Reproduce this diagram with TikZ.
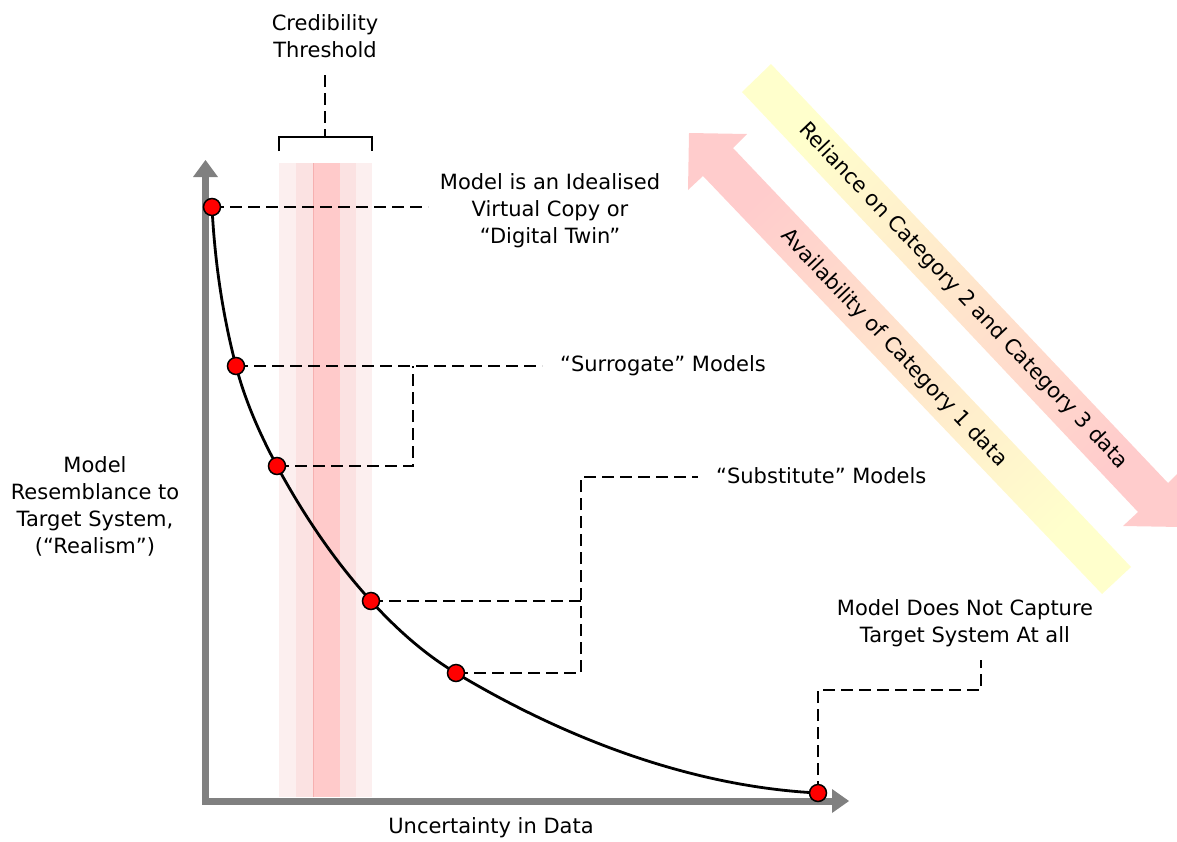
\documentclass[tikz,border=0pt]{standalone}
\usepackage{fontspec}
\setmainfont{DejaVu Sans}
\definecolor{axisgray}{HTML}{808080}
\definecolor{bandA}{HTML}{FCEFEF}
\definecolor{bandB}{HTML}{FBE2E2}
\definecolor{bandC}{HTML}{FFCACA}
\definecolor{bandEdge}{HTML}{F6B0B0}
\definecolor{yelc}{HTML}{FFFFCC}
\definecolor{pinc}{HTML}{FFCCCC}
\begin{document}
\begin{tikzpicture}[x=1pt,y=-1pt,
  lbl/.style={font=\fontsize{21}{27}\selectfont, align=center, inner sep=0pt, text=black},
  dashline/.style={draw=black, line width=1.6pt, dash pattern=on 12pt off 6pt},
  solidline/.style={draw=black, line width=1.6pt},
  dot/.style={circle, fill=red, draw=black, line width=1.5pt, minimum size=17pt, inner sep=0pt},
  axisline/.style={draw=axisgray, line width=7pt, line join=miter},
  axishead/.style={fill=axisgray}]
\useasboundingbox (0,0) rectangle (1177,841);

% big diagonal arrows
\shade[top color=yelc, bottom color=pinc, shading angle=43.5]
  (742,92) -- (771,64) -- (1168,483) -- (1182,469) -- (1181,527) -- (1123,526) -- (1138,512) -- cycle;
\shade[top color=pinc, bottom color=yelc, shading angle=43.5]
  (689,133) -- (747,134) -- (733,148) -- (1131,567) -- (1102,594) -- (703,176) -- (688,190) -- cycle;
\node[lbl, rotate=-46.5] (rel) at (963,296) {Reliance on Category 2 and Category 3 data};
\node[lbl, rotate=-46.5] (avl) at (894,348) {Availability of Category 1 data};

% credibility band
\fill[bandA] (279,163) rectangle (296,797);
\fill[bandB] (296,163) rectangle (313,797);
\fill[bandC] (313,163) rectangle (340,797);
\fill[bandB] (340,163) rectangle (356,797);
\fill[bandA] (356,163) rectangle (372,797);
\draw[bandEdge, line width=1pt] (313.5,163) -- (313.5,797);

% axes
\draw[axisline] (205.5,177) -- (205.5,801) -- (832,801);
\fill[axishead] (193,177) -- (218,177) -- (205.5,160) -- cycle;
\fill[axishead] (832,789) -- (832,813) -- (849,801) -- cycle;

% labels
\node[lbl] (cred) at (325,36) {Credibility\\Threshold};
\node[lbl] (twin) at (550,211) {Model is an Idealised\\Virtual Copy or\\“Digital Twin”};
\node[lbl, anchor=west] (surr) at (560,366) {“Surrogate” Models};
\node[lbl, anchor=west] (subs) at (716,476) {“Substitute” Models};
\node[lbl] (none) at (965,623) {Model Does Not Capture\\Target System At all};
\node[lbl] (ylab) at (95,506) {Model\\Resemblance to\\Target System,\\(“Realism”)};
\node[lbl] (xlab) at (491,828) {Uncertainty in Data};

% bracket
\coordinate (bl) at (279,151);
\coordinate (br) at (372,151);
\coordinate (bm) at (325,137);
\coordinate (ct) at (325,75);
\draw[solidline] (bl) -- (279,137) -- (372,137) -- (br);
\draw[dashline] (ct) -- (bm);

% dots positions
\coordinate (p1) at (212,207);
\coordinate (p2) at (236,366);
\coordinate (p3) at (277,466);
\coordinate (p4) at (371,601);
\coordinate (p5) at (456,673);
\coordinate (p6) at (818,793);

% dashed connectors
\coordinate (e1) at (428,207);
\coordinate (e2) at (542,366);
\coordinate (e3) at (413,366);
\coordinate (e4) at (581,601);
\coordinate (e5) at (698,477);
\coordinate (e6) at (981,660);
\draw[dashline] (p1) -- (e1);
\draw[dashline] (p2) -- (e2);
\draw[dashline] (p3) -- (413,466) -- (e3);
\draw[dashline] (p4) -- (e4);
\draw[dashline] (p5) -- (581,673) -- (581,477) -- (e5);
\draw[dashline] (p6) -- (818,690) -- (981,690) -- (e6);

% curve
\draw[black, line width=2.8pt]
  (p1) .. controls (214.7,260.5) and (222.4,314.2) .. (p2)
       .. controls (245.1,400.8) and (259.9,434.3) .. (p3)
       .. controls (303.1,514.2) and (334.1,560.5) .. (p4)
       .. controls (396,628.5) and (424.2,653.9) .. (p5)
       .. controls (565,738.4) and (691,786.6) .. (p6);

% dots
\node[dot] (d1) at (p1) {};
\node[dot] (d2) at (p2) {};
\node[dot] (d3) at (p3) {};
\node[dot] (d4) at (p4) {};
\node[dot] (d5) at (p5) {};
\node[dot] (d6) at (p6) {};
\end{tikzpicture}
\end{document}
